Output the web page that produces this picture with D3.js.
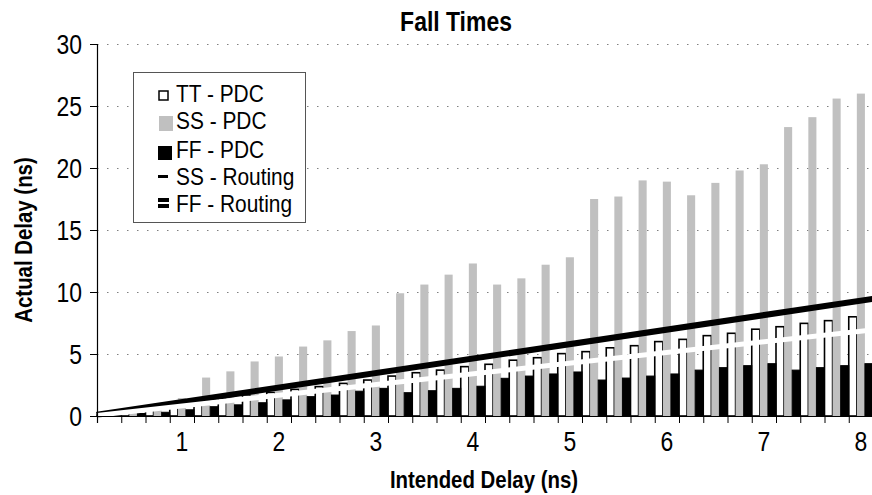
<!DOCTYPE html>
<html>
<head>
<meta charset="utf-8">
<script src="https://cdn.jsdelivr.net/npm/d3@7"></script>
<style>
  body { margin: 0; background: #fff; }
  svg { display: block; font-family: "Liberation Sans", Arial, sans-serif; }
</style>
</head>
<body>
<div id="chart"></div>
<script>
// intended delay categories (ns)
var delays = [0.25, 0.5, 0.75, 1, 1.25, 1.5, 1.75, 2, 2.25, 2.5, 2.75, 3, 3.25, 3.5, 3.75, 4,
              4.25, 4.5, 4.75, 5, 5.25, 5.5, 5.75, 6, 6.25, 6.5, 6.75, 7, 7.25, 7.5, 7.75, 8];
var labelDelays = [1, 2, 3, 4, 5, 6, 7, 8];

// bar series (actual delay, ns)
var ttPdc = [0.25, 0.5, 0.75, 1.0, 1.2, 1.45, 1.7, 1.9, 2.15, 2.37, 2.63, 2.9, 3.22, 3.49, 3.7, 3.98,
             4.17, 4.5, 4.7, 5.03, 5.19, 5.5, 5.67, 6.0, 6.18, 6.48, 6.67, 7.0, 7.2, 7.47, 7.69, 8.0];
var ssPdc = [0.3, 0.6, 1.0, 1.45, 3.1, 3.6, 4.4, 4.8, 5.6, 6.1, 6.85, 7.3, 9.9, 10.6, 11.4, 12.3,
             10.6, 11.1, 12.2, 12.8, 17.5, 17.7, 19.0, 18.9, 17.8, 18.8, 19.8, 20.3, 23.3, 24.1, 25.6, 26.0];
var ffPdc = [0.1, 0.2, 0.3, 0.5, 0.75, 0.9, 1.07, 1.3, 1.56, 1.69, 2.0, 2.23, 1.88, 2.04, 2.23, 2.4,
             3.04, 3.22, 3.39, 3.55, 2.9, 3.06, 3.22, 3.39, 3.7, 3.9, 4.06, 4.22, 3.7, 3.9, 4.06, 4.22];

// routing lines (start / end of the plot)
var routingX = [0.125, 8.125];
var ssRouting = [0.1, 9.45];
var ffRouting = [0.05, 6.95];

var yTicks = [0, 5, 10, 15, 20, 25, 30];

var width = 872, height = 495;
var plotLeft = 97, plotRight = 873, plotTop = 44, plotBottom = 416;
var squeeze = 0.85;   // narrow font look

var svg = d3.select("#chart").append("svg")
    .attr("width", width)
    .attr("height", height);

var x = d3.scaleBand().domain(delays).range([plotLeft, plotRight]).padding(0);
var xLin = d3.scaleLinear().domain([0.125, 8.125]).range([plotLeft, plotRight]);
var sub = d3.scaleBand().domain(["tt", "ss", "ff"]).range([0, x.bandwidth()]).padding(0);
var y = d3.scaleLinear().domain([0, 30]).range([plotBottom, plotTop]);

// dotted gridlines
svg.append("g")
    .attr("transform", "translate(" + plotLeft + ",0)")
    .call(d3.axisLeft(y).tickValues(yTicks.slice(1)).tickSize(-(plotRight - plotLeft)).tickFormat(""))
    .call(g => g.select(".domain").remove())
    .selectAll("line")
      .attr("stroke", "#808080")
      .attr("stroke-width", 1.2)
      .attr("stroke-dasharray", "1.5,8.5");

// bars
var series = [
  {key: "tt", values: ttPdc, fill: "#ffffff", stroke: "#000", sw: 1.6},
  {key: "ss", values: ssPdc, fill: "#c0c0c0", stroke: "none", sw: 0},
  {key: "ff", values: ffPdc, fill: "#000000", stroke: "#000", sw: 1}
];

series.forEach(function(s) {
  svg.append("g").selectAll("rect")
    .data(s.values)
    .enter().append("rect")
      .attr("x", function(d, i) { return x(delays[i]) + sub(s.key); })
      .attr("y", function(d) { return y(d); })
      .attr("width", sub.bandwidth())
      .attr("height", function(d) { return y(0) - y(d); })
      .attr("fill", s.fill)
      .attr("stroke", s.stroke)
      .attr("stroke-width", s.sw);
});

// routing lines
var line = d3.line()
    .x(function(d) { return xLin(d[0]); })
    .y(function(d) { return y(d[1]); });

svg.append("path")
    .datum(routingX.map(function(v, i) { return [v, ssRouting[i]]; }))
    .attr("d", line)
    .attr("fill", "none")
    .attr("stroke", "#000")
    .attr("stroke-width", 6);

svg.append("path")
    .datum(routingX.map(function(v, i) { return [v, ffRouting[i]]; }))
    .attr("d", line)
    .attr("fill", "none")
    .attr("stroke", "#fff")
    .attr("stroke-width", 5);

// y axis
var yAxis = svg.append("g")
    .attr("transform", "translate(" + plotLeft + ",0)")
    .call(d3.axisLeft(y).tickValues(yTicks).tickSize(7).tickPadding(0));
yAxis.select(".domain").attr("stroke", "#000").attr("stroke-width", 1.2);
yAxis.selectAll("line").attr("stroke", "#000");
yAxis.selectAll("text")
    .attr("x", -15 / squeeze)
    .attr("dy", "0.36em")
    .attr("transform", "scale(" + squeeze + ",1)")
    .style("font-size", "27px")
    .attr("fill", "#000");

// x axis: ticks between categories
var xTickAxis = svg.append("g")
    .attr("transform", "translate(0," + plotBottom + ")")
    .call(d3.axisBottom(xLin).tickValues(delays.map(function(d) { return d - 0.125; }).concat([8.125]))
          .tickSize(7).tickFormat(""));
xTickAxis.select(".domain").attr("stroke", "#000").attr("stroke-width", 1.2);
xTickAxis.selectAll("line").attr("stroke", "#000");

// x axis labels at category centres
var xLabelAxis = svg.append("g")
    .attr("transform", "translate(0," + plotBottom + ")")
    .call(d3.axisBottom(x).tickValues(labelDelays).tickSize(0).tickPadding(16));
xLabelAxis.select(".domain").remove();
xLabelAxis.selectAll("text")
    .attr("dy", "0.71em")
    .attr("transform", "scale(" + squeeze + ",1)")
    .style("font-size", "27px")
    .attr("fill", "#000");

// titles
function squeezed(txt, cx, cy, size, weight, rot) {
  svg.append("text")
    .attr("transform", "translate(" + cx + "," + cy + ")" + (rot ? " rotate(" + rot + ")" : "") + " scale(" + squeeze + ",1)")
    .attr("text-anchor", "middle")
    .style("font-size", size + "px")
    .style("font-weight", weight)
    .text(txt);
}
squeezed("Fall Times", 456, 31, 27, "bold");
squeezed("Intended Delay (ns)", 484, 488, 24, "bold");
squeezed("Actual Delay (ns)", 32, 240, 24, "bold", -90);

// legend
var lg = svg.append("g");
lg.append("rect")
    .attr("x", 133.5).attr("y", 72.5)
    .attr("width", 172).attr("height", 150)
    .attr("fill", "#fff")
    .attr("stroke", "#555")
    .attr("stroke-width", 1);

var legendItems = ["TT - PDC", "SS - PDC", "FF - PDC", "SS - Routing", "FF - Routing"];
var legendBase = [102, 129, 158, 185, 212];

legendItems.forEach(function(name, i) {
  lg.append("text")
    .attr("transform", "translate(176," + legendBase[i] + ") scale(0.87,1)")
    .style("font-size", "24px")
    .text(name);
});

lg.append("rect").attr("x", 159).attr("y", 91).attr("width", 9).attr("height", 9)
  .attr("fill", "#fff").attr("stroke", "#000").attr("stroke-width", 1.5);
lg.append("rect").attr("x", 159).attr("y", 116).attr("width", 14).attr("height", 15)
  .attr("fill", "#c0c0c0");
lg.append("rect").attr("x", 158).attr("y", 146).attr("width", 14).attr("height", 14)
  .attr("fill", "#000");
lg.append("rect").attr("x", 158).attr("y", 175).attr("width", 10).attr("height", 3)
  .attr("fill", "#000");
lg.append("rect").attr("x", 158).attr("y", 198).attr("width", 11).attr("height", 4)
  .attr("fill", "#000");
lg.append("rect").attr("x", 158).attr("y", 204).attr("width", 11).attr("height", 4)
  .attr("fill", "#000");
</script>
</body>
</html>
